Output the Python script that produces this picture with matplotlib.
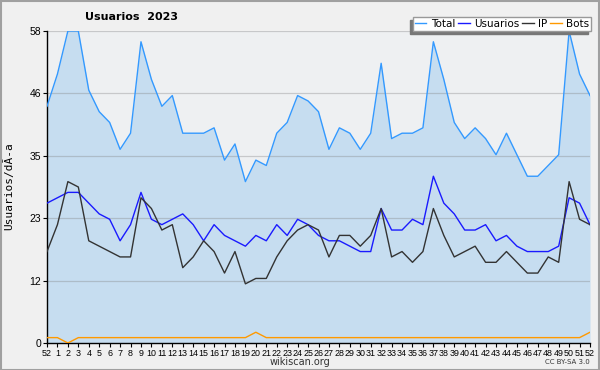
import matplotlib
matplotlib.use('Agg')
import matplotlib.pyplot as plt
import matplotlib.patches as mpatches

# week labels (last week of 2022, then weeks of 2023)
weeks = ['52'] + [str(i) for i in range(1, 53)]

total = [44, 50, 58, 58, 47, 43, 41, 36, 39, 56, 49, 44, 46, 39, 39, 39, 40, 34, 37, 30,
         34, 33, 39, 41, 46, 45, 43, 36, 40, 39, 36, 39, 52, 38, 39, 39, 40, 56, 49, 41,
         38, 40, 38, 35, 39, 35, 31, 31, 33, 35, 58, 50, 46]
usuarios = [26, 27, 28, 28, 26, 24, 23, 19, 22, 28, 23, 22, 23, 24, 22, 19, 22, 20, 19, 18,
            20, 19, 22, 20, 23, 22, 20, 19, 19, 18, 17, 17, 25, 21, 21, 23, 22, 31, 26, 24,
            21, 21, 22, 19, 20, 18, 17, 17, 17, 18, 27, 26, 22]
ip = [17, 22, 30, 29, 19, 18, 17, 16, 16, 27, 25, 21, 22, 14, 16, 19, 17, 13, 17, 11,
      12, 12, 16, 19, 21, 22, 21, 16, 20, 20, 18, 20, 25, 16, 17, 15, 17, 25, 20, 16,
      17, 18, 15, 15, 17, 15, 13, 13, 16, 15, 30, 23, 22]
bots = [1, 1, 0, 1, 1, 1, 1, 1, 1, 1, 1, 1, 1, 1, 1, 1, 1, 1, 1, 1,
        2, 1, 1, 1, 1, 1, 1, 1, 1, 1, 1, 1, 1, 1, 1, 1, 1, 1, 1, 1,
        1, 1, 1, 1, 1, 1, 1, 1, 1, 1, 1, 1, 2]

ymax = 58
x = list(range(len(weeks)))
sans = ['Liberation Sans', 'DejaVu Sans']

fig = plt.figure(figsize=(6, 3.7), dpi=100, facecolor='#f0f0f0')
ax = fig.add_axes([47/600, 27/370, 543/600, 312/370])
ax.set_facecolor('#eef0f2')

ax.fill_between(x, total, 0, color='#c6ddf0', zorder=1, linewidth=0)
yt = [ymax * k / 5 for k in range(6)]
for v in yt[1:]:
    ax.axhline(v, color='#808080', alpha=0.35, lw=0.9, zorder=2)

ax.plot(x, total, color='#3399ff', lw=1, label='Total', zorder=3)
ax.plot(x, usuarios, color='#1a1aff', lw=1, label='Usuarios', zorder=4)
ax.plot(x, ip, color='#333333', lw=1, label='IP', zorder=4)
ax.plot(x, bots, color='#ff9900', lw=1, label='Bots', zorder=4)

ax.set_xlim(0, len(weeks) - 1)
ax.set_ylim(0, ymax)
ax.set_xticks(x)
ax.set_xticklabels(weeks, fontsize=6.4, family=sans)
ax.set_yticks(yt)
ax.set_yticklabels([str(round(v)) for v in yt], fontsize=7.5, family=sans)
ax.tick_params(axis='both', length=3, width=0.8, pad=1, colors='#000000')
for s in ['top', 'right']:
    ax.spines[s].set_visible(False)
for s in ['left', 'bottom']:
    ax.spines[s].set_linewidth(1)

leg = ax.legend(loc='upper right', bbox_to_anchor=(591/600, 1-17/370), bbox_transform=fig.transFigure,
                ncol=4, prop={'size': 7.5}, frameon=True, fancybox=False,
                handlelength=1.1, handletextpad=0.4, columnspacing=0.3, borderpad=0.2,
                borderaxespad=0, shadow={'ox': -2, 'oy': -2, 'color': '#777777', 'alpha': 1})
leg.get_frame().set_edgecolor('#999999')
leg.get_frame().set_linewidth(1)
leg.set_zorder(10)

fig.text(85/600, 1-17/370, 'Usuarios  2023', ha='left', va='center', fontsize=8, fontweight='bold')
fig.text(9/600, 1-186/370, 'Usuarios/dÃ-a', rotation=90, ha='center', va='center',
         fontsize=8, family='DejaVu Sans Mono')
fig.text(300/600, 1-362/370, 'wikiscan.org', ha='center', va='center', fontsize=7, color='#333333')
fig.text(590/600, 1-362/370, 'CC BY-SA 3.0', ha='right', va='center', fontsize=5, color='#333333')

fig.patches.append(mpatches.Rectangle((0.5/600, 0.5/370), 598.5/600, 368.5/370, transform=fig.transFigure,
                                      fill=False, edgecolor='#a0a0a0', lw=1.5))

fig.savefig('out.png', dpi=100, facecolor=fig.get_facecolor())
